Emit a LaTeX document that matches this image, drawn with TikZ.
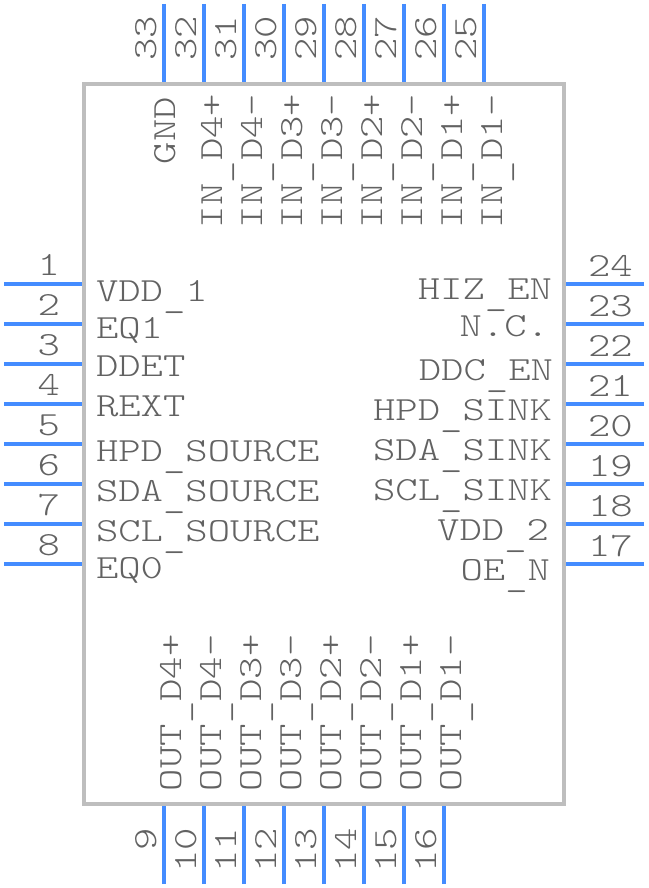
\documentclass[tikz,border=0pt]{standalone}
\usepackage{fontspec}
\newfontfamily\pinfont[FakeStretch=1.26]{Latin Modern Mono Light}
\definecolor{pinblue}{HTML}{448CFF}
\definecolor{boxgray}{HTML}{BEBEBE}
\definecolor{txtgray}{HTML}{626262}
\newcommand{\lowus}{\raisebox{-6pt}{\_}}
\tikzset{
  x=1pt,y=-1pt,
  pinline/.style={draw=pinblue,line width=4pt},
  chipbox/.style={draw=boxgray,line width=3.6pt},
  lab/.style={text=txtgray,inner sep=0pt,outer sep=0pt,font=\pinfont\fontsize{33.8}{34}\selectfont},
  westlab/.style={lab,anchor=base west},
  eastlab/.style={lab,anchor=base east},
  uplab/.style={lab,anchor=base west,rotate=90},
  upend/.style={lab,anchor=base east,rotate=90},
}
\begin{document}
\begin{tikzpicture}
\useasboundingbox (0,0) rectangle (648,888);
% pins
\foreach \n/\y in {1/284,2/324,3/364,4/404,5/444,6/484,7/524,8/564}{
  \coordinate (la\n) at (4,\y); \coordinate (lb\n) at (84,\y);
  \draw[pinline] (la\n) -- (lb\n);
  \node[eastlab] (ln\n) at (60,\y-9) {\n};
}
\foreach \n/\y in {24/284,23/324,22/364,21/404,20/444,19/484,18/524,17/564}{
  \coordinate (ra\n) at (644,\y); \coordinate (rb\n) at (564,\y);
  \draw[pinline] (ra\n) -- (rb\n);
  \node[westlab] (rn\n) at (588,\y-8) {\n};
}
\foreach \n/\x in {33/164,32/204,31/244,30/284,29/324,28/364,27/404,26/444,25/484}{
  \coordinate (ta\n) at (\x,4); \coordinate (tb\n) at (\x,84);
  \draw[pinline] (ta\n) -- (tb\n);
  \node[upend] (tn\n) at (\x-8,16) {\n};
}
\foreach \n/\x in {9/164,10/204,11/244,12/284,13/324,14/364,15/404,16/444}{
  \coordinate (ba\n) at (\x,884); \coordinate (bb\n) at (\x,804);
  \draw[pinline] (ba\n) -- (bb\n);
  \node[upend] (bn\n) at (\x-8,828) {\n};
}
% body
\draw[chipbox] (84,84) rectangle (564,804);
% left labels
\foreach \i/\t/\y in {a/VDD\lowus 1/301,b/EQ1/338,c/DDET/376,d/REXT/416,e/HPD\lowus SOURCE/461,f/SDA\lowus SOURCE/501,g/SCL\lowus SOURCE/541,h/EQ0/578}{
  \node[westlab] (lt\i) at (96,\y) {\t};
}
% right labels
\foreach \i/\t/\y/\x in {a/HIZ\lowus EN/299/552,b/N.C./336/549,c/DDC\lowus EN/380/553,d/HPD\lowus SINK/420/552,e/SDA\lowus SINK/460/552,f/SCL\lowus SINK/500/552,g/VDD\lowus 2/540/549,h/OE\lowus N/580/550}{
  \node[eastlab] (rt\i) at (\x,\y) {\t};
}
% top labels
\node[uplab] (tgnd) at (175,164) {GND};
\foreach \i/\t/\x in {a/D4+/222,b/D4-/262,c/D3+/302,d/D3-/342,e/D2+/382,f/D2-/422,g/D1+/462,h/D1-/502}{
  \node[uplab] (tt\i) at (\x,228) {IN\lowus \t};
}
% bottom labels
\foreach \i/\t/\x in {a/D4+/181,b/D4-/221,c/D3+/261,d/D3-/301,e/D2+/341,f/D2-/381,g/D1+/421,h/D1-/461}{
  \node[uplab] (bt\i) at (\x,791) {OUT\lowus \t};
}
\end{tikzpicture}
\end{document}
